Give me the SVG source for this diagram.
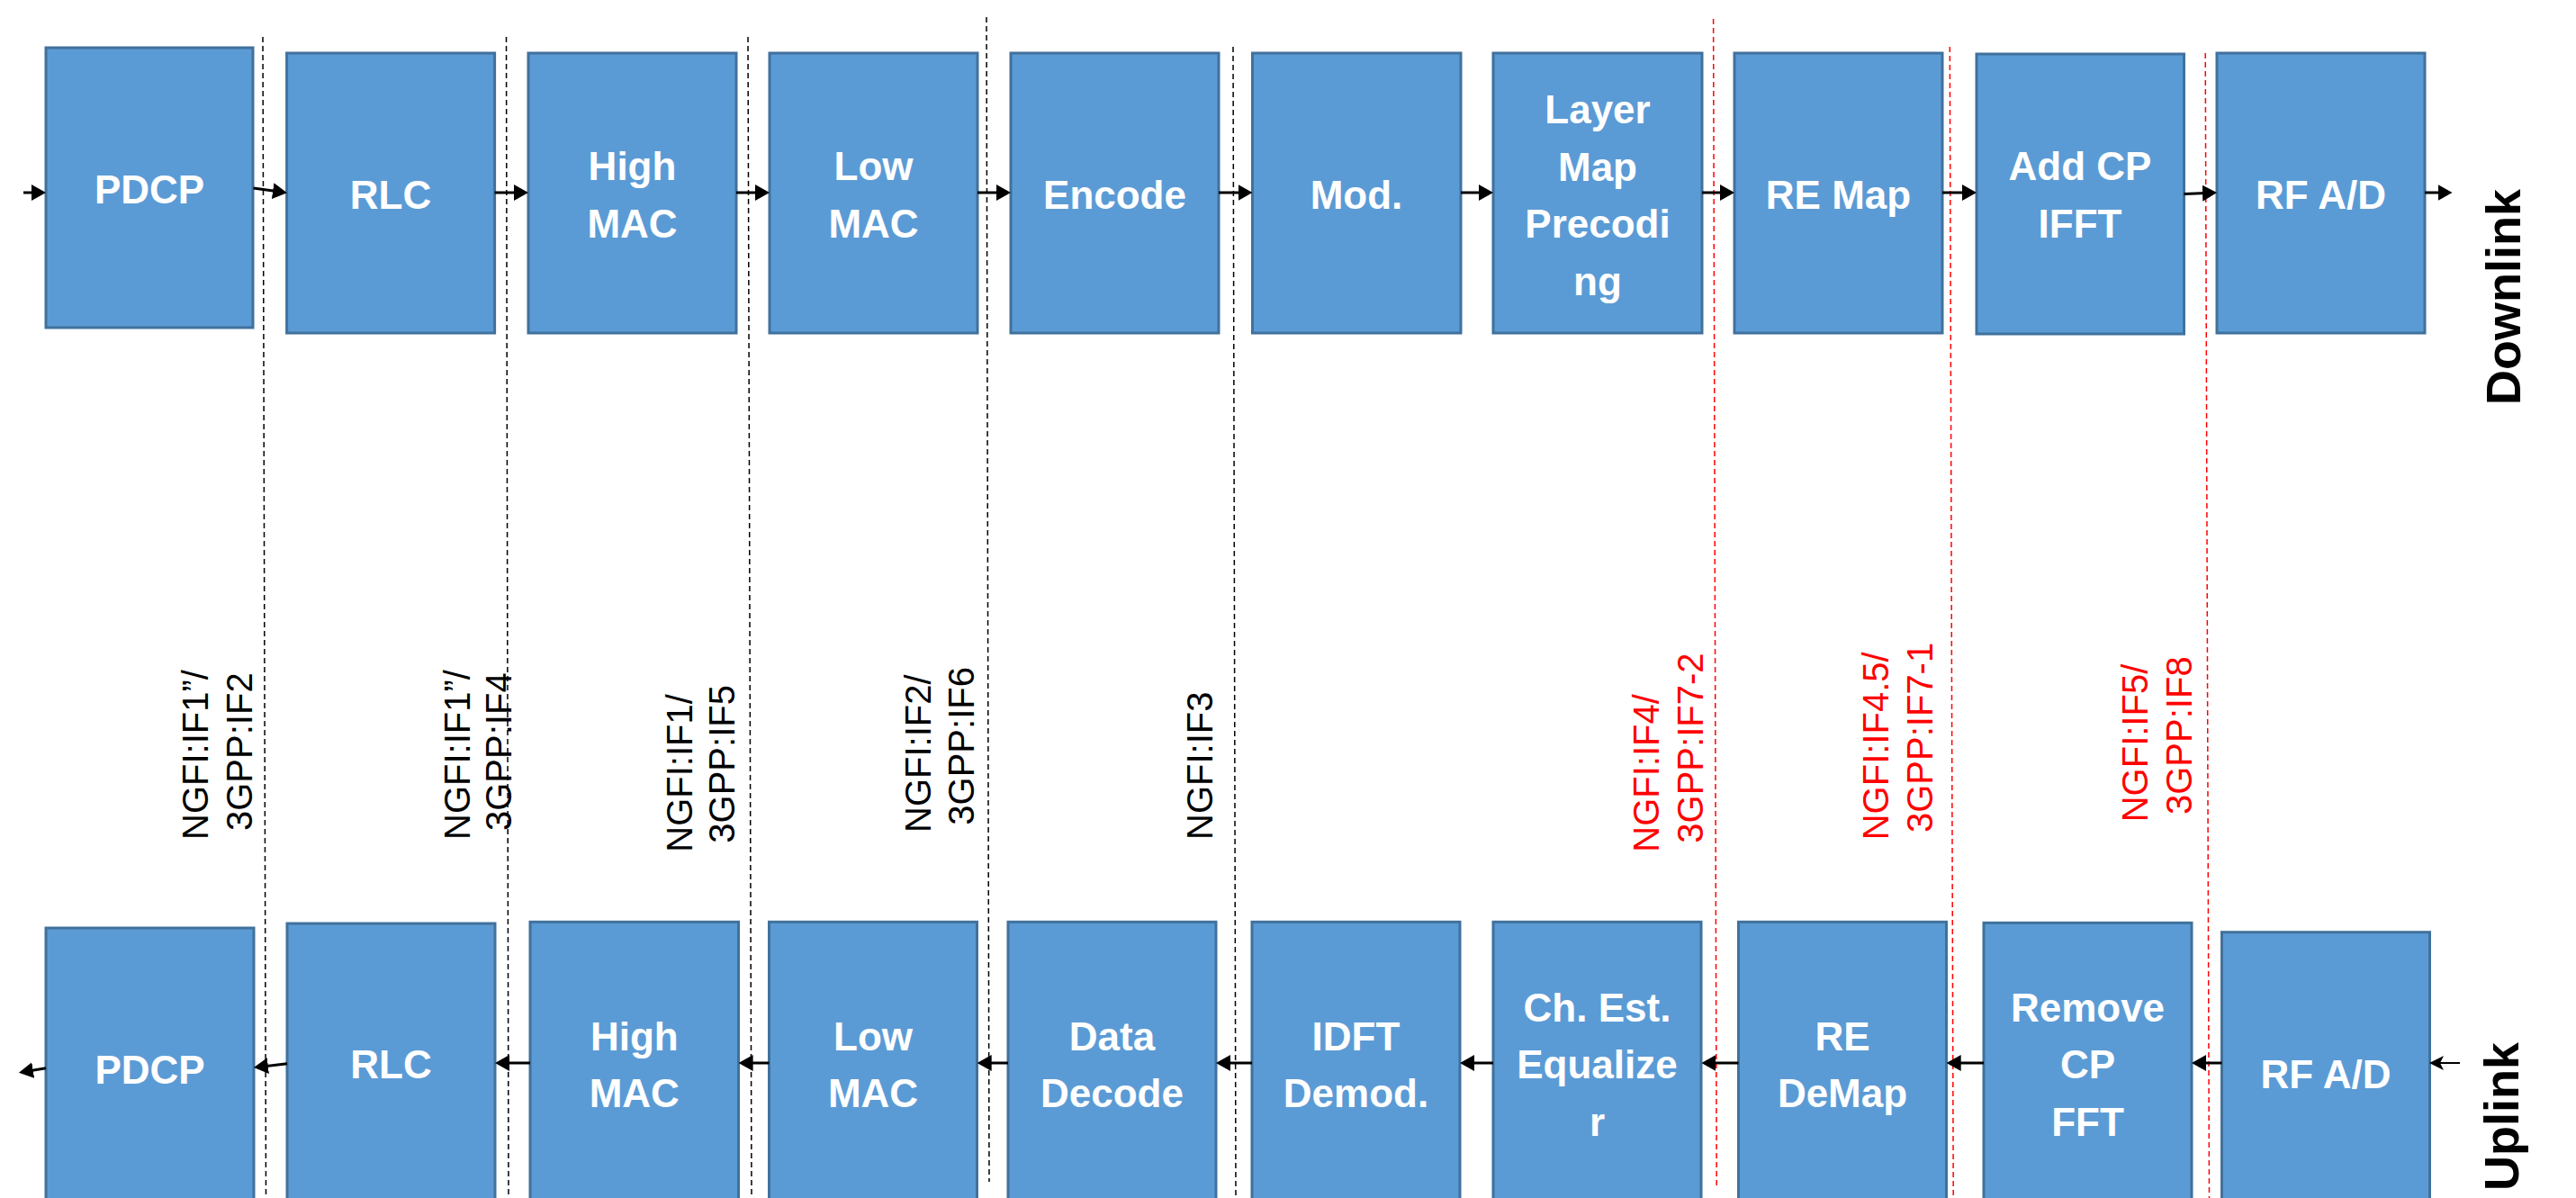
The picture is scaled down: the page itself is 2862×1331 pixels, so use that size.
<svg xmlns="http://www.w3.org/2000/svg" width="2862" height="1331" viewBox="0 0 2862 1331">
<style>
.box{fill:#5B9BD5;stroke:#41719C;stroke-width:3}
.nt{font-family:"Liberation Sans",Arial,sans-serif;font-weight:bold;font-size:44px;fill:#FFFFFF;text-anchor:middle}
.lbl{font-family:"Liberation Sans",Arial,sans-serif;font-size:40px;fill:#000000}
.red{fill:#FF0000}
.dir{font-family:"Liberation Sans",Arial,sans-serif;font-weight:bold;font-size:54px;fill:#000000}
.dash{stroke:#000000;stroke-width:1.5;stroke-dasharray:6,4;fill:none}
.rdash{stroke:#FF0000;stroke-width:1.5;stroke-dasharray:6,4;fill:none}
.arr{stroke:#000000;stroke-width:3;fill:none;marker-end:url(#ah)}
.arr2{stroke:#000000;stroke-width:2;fill:none;marker-end:url(#ah2)}
</style>
<defs>
<marker id="ah" markerUnits="userSpaceOnUse" markerWidth="16" markerHeight="18" viewBox="0 0 16 18" refX="4" refY="9" orient="auto">
<path d="M0,0 L16,9 L0,18 z" fill="#000000"/>
</marker>
<marker id="ah2" markerUnits="userSpaceOnUse" markerWidth="16" markerHeight="16" viewBox="0 0 16 16" refX="4" refY="8" orient="auto">
<path d="M0,0 L16,8 L0,16 L4,8 z" fill="#000000"/>
</marker>
</defs>

<g id="separators">
<line class="dash" x1="292" y1="41" x2="295.5" y2="1331"/>
<line class="dash" x1="562.5" y1="41" x2="565" y2="1331"/>
<line class="dash" x1="831" y1="41" x2="835" y2="1331"/>
<line class="dash" x1="1096" y1="19" x2="1099" y2="1313"/>
<line class="dash" x1="1370" y1="52" x2="1373" y2="1331"/>
<line class="rdash" x1="1903.6" y1="21" x2="1907.2" y2="1317"/>
<line class="rdash" x1="2166.3" y1="52" x2="2170.2" y2="1331"/>
<line class="rdash" x1="2450.2" y1="59" x2="2454.5" y2="1331"/>
</g>

<g id="dl-pdcp"><rect class="box" x="51" y="53" width="230" height="311"/><text class="nt" x="166" y="226">PDCP</text></g>
<g id="dl-rlc"><rect class="box" x="318.6" y="59" width="231" height="311"/><text class="nt" x="434" y="231.7">RLC</text></g>
<g id="dl-highmac"><rect class="box" x="587" y="59" width="231" height="311"/><text class="nt" x="702.5" y="200">High</text><text class="nt" x="702.5" y="264.3">MAC</text></g>
<g id="dl-lowmac"><rect class="box" x="855" y="59" width="231" height="311"/><text class="nt" x="970.5" y="200">Low</text><text class="nt" x="970.5" y="264.3">MAC</text></g>
<g id="dl-encode"><rect class="box" x="1123" y="59" width="231" height="311"/><text class="nt" x="1238.5" y="231.7">Encode</text></g>
<g id="dl-mod"><rect class="box" x="1391.5" y="59" width="231.5" height="311"/><text class="nt" x="1507" y="231.7">Mod.</text></g>
<g id="dl-layer"><rect class="box" x="1659" y="59" width="232" height="311"/><text class="nt" x="1775" y="137">Layer</text><text class="nt" x="1775" y="200.5">Map</text><text class="nt" x="1775" y="264">Precodi</text><text class="nt" x="1775" y="327.5">ng</text></g>
<g id="dl-remap"><rect class="box" x="1927" y="59" width="231" height="311"/><text class="nt" x="2042.5" y="231.7">RE Map</text></g>
<g id="dl-addcp"><rect class="box" x="2196" y="60" width="230.5" height="311"/><text class="nt" x="2311" y="200">Add CP</text><text class="nt" x="2311" y="264.3">IFFT</text></g>
<g id="dl-rfad"><rect class="box" x="2463" y="59" width="231" height="311"/><text class="nt" x="2578.5" y="231.7">RF A/D</text></g>

<g id="ul-pdcp"><rect class="box" x="51" y="1031" width="231" height="311"/><text class="nt" x="166.5" y="1204">PDCP</text></g>
<g id="ul-rlc"><rect class="box" x="319" y="1026" width="231" height="311"/><text class="nt" x="434.5" y="1198.3">RLC</text></g>
<g id="ul-highmac"><rect class="box" x="589" y="1024.3" width="231.5" height="311"/><text class="nt" x="704.8" y="1166.7">High</text><text class="nt" x="704.8" y="1230">MAC</text></g>
<g id="ul-lowmac"><rect class="box" x="854.5" y="1024.3" width="231" height="311"/><text class="nt" x="970" y="1166.7">Low</text><text class="nt" x="970" y="1230">MAC</text></g>
<g id="ul-decode"><rect class="box" x="1120" y="1024.3" width="231" height="311"/><text class="nt" x="1235.5" y="1166.7">Data</text><text class="nt" x="1235.5" y="1230">Decode</text></g>
<g id="ul-idft"><rect class="box" x="1391" y="1024.3" width="231" height="311"/><text class="nt" x="1506.5" y="1166.7">IDFT</text><text class="nt" x="1506.5" y="1230">Demod.</text></g>
<g id="ul-chest"><rect class="box" x="1659" y="1024.3" width="231" height="311"/><text class="nt" x="1774.5" y="1135">Ch. Est.</text><text class="nt" x="1774.5" y="1198">Equalize</text><text class="nt" x="1774.5" y="1261.7">r</text></g>
<g id="ul-redemap"><rect class="box" x="1931.5" y="1024.3" width="231" height="311"/><text class="nt" x="2047" y="1166.7">RE</text><text class="nt" x="2047" y="1230">DeMap</text></g>
<g id="ul-removecp"><rect class="box" x="2204" y="1025.3" width="231" height="311"/><text class="nt" x="2319.5" y="1135">Remove</text><text class="nt" x="2319.5" y="1198">CP</text><text class="nt" x="2319.5" y="1262">FFT</text></g>
<g id="ul-rfad"><rect class="box" x="2468.5" y="1035.7" width="231" height="311"/><text class="nt" x="2584" y="1209.3">RF A/D</text></g>

<g id="connectors">
<line class="arr" x1="26" y1="214" x2="39" y2="214"/>
<line class="arr" x1="281.5" y1="209" x2="307.1" y2="212.6"/>
<line class="arr" x1="549.6" y1="214" x2="575" y2="214"/>
<line class="arr" x1="818" y1="214" x2="843" y2="214"/>
<line class="arr" x1="1086" y1="214" x2="1111" y2="214"/>
<line class="arr" x1="1354" y1="214" x2="1379.5" y2="214"/>
<line class="arr" x1="1623" y1="214" x2="1647" y2="214"/>
<line class="arr" x1="1891" y1="214" x2="1915" y2="214"/>
<line class="arr" x1="2158" y1="214" x2="2184" y2="214"/>
<line class="arr" x1="2426.5" y1="215.5" x2="2451" y2="214.5"/>
<line class="arr" x1="2694" y1="214" x2="2712.5" y2="214"/>

<line class="arr2" x1="2733" y1="1181" x2="2711" y2="1181"/>
<line class="arr" x1="2468.5" y1="1181" x2="2447" y2="1181"/>
<line class="arr" x1="2204" y1="1181" x2="2174.7" y2="1181"/>
<line class="arr" x1="1931.5" y1="1181" x2="1902.4" y2="1181"/>
<line class="arr" x1="1659" y1="1181" x2="1634" y2="1181"/>
<line class="arr" x1="1391" y1="1181" x2="1363" y2="1181"/>
<line class="arr" x1="1120" y1="1181" x2="1097.7" y2="1181"/>
<line class="arr" x1="854.5" y1="1181" x2="832.6" y2="1181"/>
<line class="arr" x1="589" y1="1181" x2="562" y2="1181"/>
<line class="arr" x1="319" y1="1181.7" x2="293.9" y2="1184.65"/>
<line class="arr" x1="51" y1="1186.7" x2="32.8" y2="1189.7"/>
</g>

<g id="labels">
<text class="lbl" transform="translate(231,933) rotate(-90)">NGFI:IF1”/</text>
<text class="lbl" transform="translate(280,923) rotate(-90)">3GPP:IF2</text>
<text class="lbl" transform="translate(522,933) rotate(-90)">NGFI:IF1”/</text>
<text class="lbl" transform="translate(568,923) rotate(-90)">3GPP:IF4</text>
<text class="lbl" transform="translate(769,946.7) rotate(-90)">NGFI:IF1/</text>
<text class="lbl" transform="translate(816,936.7) rotate(-90)">3GPP:IF5</text>
<text class="lbl" transform="translate(1034,925) rotate(-90)">NGFI:IF2/</text>
<text class="lbl" transform="translate(1082,916.7) rotate(-90)">3GPP:IF6</text>
<text class="lbl" transform="translate(1347,933) rotate(-90)">NGFI:IF3</text>
<text class="lbl red" transform="translate(1843,946.7) rotate(-90)">NGFI:IF4/</text>
<text class="lbl red" transform="translate(1892,936.7) rotate(-90)">3GPP:IF7-2</text>
<text class="lbl red" transform="translate(2098,933.3) rotate(-90)">NGFI:IF4.5/</text>
<text class="lbl red" transform="translate(2147,925) rotate(-90)">3GPP:IF7-1</text>
<text class="lbl red" transform="translate(2386,913.3) rotate(-90)">NGFI:IF5/</text>
<text class="lbl red" transform="translate(2435,905) rotate(-90)">3GPP:IF8</text>
<text class="dir" transform="translate(2800,450) rotate(-90)">Downlink</text>
<text class="dir" transform="translate(2798,1323) rotate(-90)">Uplink</text>
</g>
</svg>
